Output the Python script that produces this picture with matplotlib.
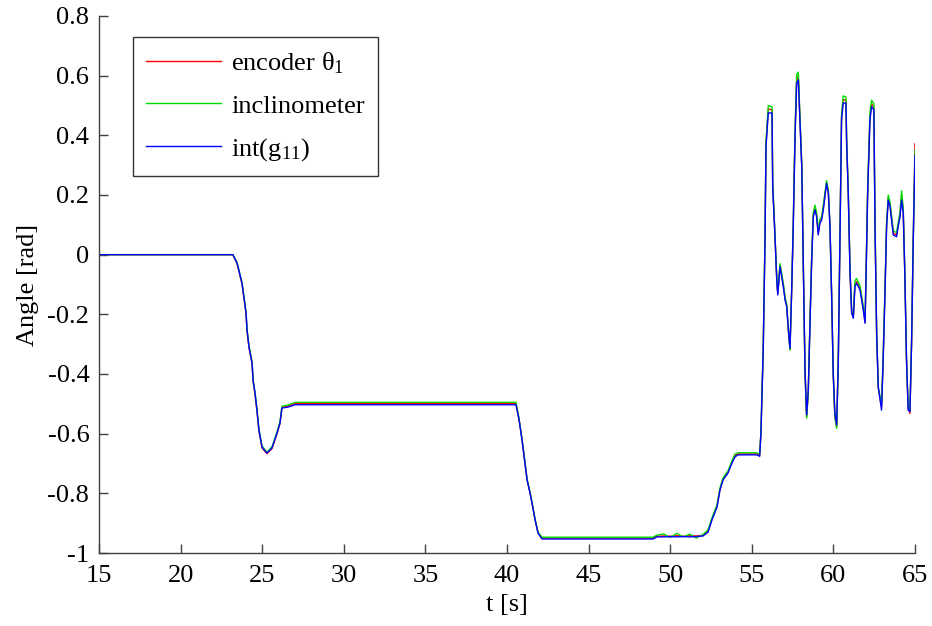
import matplotlib
matplotlib.use("Agg")
import matplotlib.pyplot as plt
import numpy as np

plt.rcParams['font.family'] = ['Liberation Serif', 'DejaVu Serif']
plt.rcParams['mathtext.fontset'] = 'custom'
plt.rcParams['mathtext.rm'] = 'Liberation Serif'
plt.rcParams['mathtext.it'] = 'Liberation Serif:italic'
plt.rcParams['axes.unicode_minus'] = False

# time samples [s]
t = [15.0, 23.2, 23.46, 23.76, 23.88, 24.01, 24.07, 24.19, 24.38, 24.44, 24.56,
     24.68, 24.80, 24.99, 25.29, 25.60, 25.91, 26.09, 26.21, 26.58, 27.01,
     40.55, 40.74, 40.92, 41.10, 41.23, 41.41, 41.53, 41.72, 41.90, 42.14,
     48.95, 49.19, 49.6, 50.0, 50.4, 50.8, 51.2, 51.6, 52.01, 52.32, 52.56,
     52.87, 53.05, 53.24, 53.54, 53.79, 53.97, 54.15, 55.32, 55.48, 55.56,
     55.70, 55.81, 55.87, 56.01, 56.24, 56.28, 56.42, 56.53, 56.59, 56.73,
     56.93, 57.04, 57.14, 57.24, 57.34, 57.44, 57.54, 57.65, 57.75, 57.85,
     57.96, 58.06, 58.16, 58.26, 58.36, 58.46, 58.57, 58.67, 58.77, 58.87,
     58.97, 59.07, 59.17, 59.28, 59.38, 59.48, 59.58, 59.69, 59.79, 59.89,
     59.99, 60.09, 60.20, 60.30, 60.40, 60.50, 60.60, 60.77, 60.81, 60.91,
     61.02, 61.12, 61.22, 61.32, 61.42, 61.63, 61.83, 61.94, 62.00, 62.10,
     62.24, 62.34, 62.48, 62.55, 62.65, 62.75, 62.95, 63.05, 63.16, 63.26,
     63.36, 63.47, 63.67, 63.87, 63.97, 64.08, 64.18, 64.28, 64.38, 64.48,
     64.58, 64.69, 64.79, 64.89, 65.0]

# int(g11): integrated gyro signal [rad]
gyro = [0.0, 0.0, -0.028, -0.095, -0.142, -0.195, -0.252, -0.309, -0.363, -0.420, -0.464,
        -0.521, -0.588, -0.645, -0.665, -0.648, -0.598, -0.564, -0.514, -0.511, -0.503,
        -0.503, -0.554, -0.621, -0.698, -0.755, -0.799, -0.832, -0.889, -0.933, -0.953,
        -0.953, -0.946, -0.946, -0.945, -0.946, -0.945, -0.946, -0.945, -0.943, -0.930, -0.889,
        -0.846, -0.789, -0.755, -0.732, -0.698, -0.678, -0.671, -0.671, -0.676, -0.600,
        -0.319, 0.049, 0.362, 0.475, 0.475, 0.228, 0.060, -0.085, -0.135, -0.040,
        -0.107, -0.152, -0.174, -0.252, -0.314, -0.128, 0.094, 0.396, 0.575, 0.586,
        0.429, 0.295, -0.040, -0.387, -0.537, -0.454, -0.219, -0.018, 0.127, 0.150,
        0.127, 0.066, 0.105, 0.116, 0.150, 0.194, 0.239, 0.206, 0.094, -0.130,
        -0.398, -0.532, -0.571, -0.353, 0.038, 0.452, 0.508, 0.508, 0.374, 0.206,
        -0.062, -0.196, -0.213, -0.107, -0.096, -0.118, -0.185, -0.230, -0.074, 0.206,
        0.452, 0.496, 0.485, 0.094, -0.264, -0.443, -0.521, -0.353, -0.129, 0.094,
        0.183, 0.161, 0.066, 0.060, 0.094, 0.127, 0.183, 0.139, -0.074, -0.353,
        -0.521, -0.526, -0.297, 0.038, 0.334]

# encoder theta1 [rad]
encoder = [0.0, 0.0, -0.030, -0.098, -0.146, -0.198, -0.255, -0.312, -0.366, -0.423, -0.468,
           -0.525, -0.592, -0.648, -0.667, -0.650, -0.600, -0.566, -0.512, -0.508, -0.499,
           -0.499, -0.552, -0.620, -0.697, -0.754, -0.798, -0.831, -0.888, -0.932, -0.950,
           -0.950, -0.944, -0.943, -0.944, -0.942, -0.944, -0.942, -0.943, -0.941, -0.926, -0.886,
           -0.842, -0.786, -0.752, -0.729, -0.695, -0.674, -0.668, -0.668, -0.673, -0.596,
           -0.316, 0.055, 0.370, 0.488, 0.486, 0.235, 0.064, -0.082, -0.130, -0.036,
           -0.102, -0.148, -0.172, -0.252, -0.318, -0.126, 0.100, 0.405, 0.588, 0.598,
           0.438, 0.300, -0.040, -0.392, -0.545, -0.460, -0.214, -0.012, 0.133, 0.158,
           0.134, 0.072, 0.110, 0.122, 0.156, 0.200, 0.242, 0.210, 0.096, -0.132,
           -0.402, -0.540, -0.578, -0.356, 0.044, 0.462, 0.520, 0.518, 0.382, 0.210,
           -0.060, -0.194, -0.210, -0.100, -0.090, -0.112, -0.180, -0.226, -0.070, 0.214,
           0.462, 0.505, 0.494, 0.098, -0.266, -0.448, -0.510, -0.348, -0.124, 0.100,
           0.190, 0.168, 0.072, 0.066, 0.100, 0.134, 0.200, 0.146, -0.070, -0.356,
           -0.512, -0.532, -0.296, 0.044, 0.372]

# inclinometer [rad]
inclino = [0.0, 0.0, -0.026, -0.092, -0.140, -0.192, -0.250, -0.306, -0.360, -0.418, -0.462,
           -0.518, -0.585, -0.642, -0.662, -0.644, -0.594, -0.560, -0.508, -0.504, -0.495,
           -0.495, -0.550, -0.618, -0.694, -0.752, -0.796, -0.829, -0.886, -0.930, -0.947,
           -0.947, -0.940, -0.936, -0.948, -0.934, -0.946, -0.937, -0.950, -0.938, -0.922, -0.882,
           -0.838, -0.782, -0.748, -0.725, -0.690, -0.668, -0.664, -0.664, -0.670, -0.592,
           -0.312, 0.060, 0.380, 0.500, 0.496, 0.240, 0.070, -0.078, -0.126, -0.030,
           -0.096, -0.142, -0.168, -0.250, -0.320, -0.122, 0.106, 0.418, 0.604, 0.612,
           0.450, 0.306, -0.036, -0.396, -0.548, -0.462, -0.210, -0.006, 0.140, 0.166,
           0.142, 0.080, 0.118, 0.128, 0.164, 0.206, 0.248, 0.216, 0.100, -0.130,
           -0.404, -0.544, -0.582, -0.356, 0.050, 0.472, 0.532, 0.528, 0.392, 0.218,
           -0.056, -0.190, -0.204, -0.088, -0.080, -0.104, -0.174, -0.220, -0.064, 0.222,
           0.476, 0.518, 0.506, 0.104, -0.262, -0.446, -0.500, -0.340, -0.118, 0.108,
           0.200, 0.176, 0.080, 0.074, 0.108, 0.142, 0.214, 0.154, -0.064, -0.352,
           -0.506, -0.524, -0.290, 0.050, 0.350]

x_ticks = [15, 20, 25, 30, 35, 40, 45, 50, 55, 60, 65]
y_ticks = [-1, -0.8, -0.6, -0.4, -0.2, 0, 0.2, 0.4, 0.6, 0.8]
y_tick_labels = ['-1', '-0.8', '-0.6', '-0.4', '-0.2', '0', '0.2', '0.4', '0.6', '0.8']

fig = plt.figure(figsize=(9.32, 6.26), dpi=100)
ax = fig.add_axes([99 / 932, 73 / 626, 816 / 932, 537 / 626])

ax.plot(t, encoder, color='#ff0000', lw=1.0, label=r'encoder θ$_1$')
ax.plot(t, inclino, color='#00e000', lw=1.0, label='inclinometer')
ax.plot(t, gyro, color='#0000ff', lw=1.0, label=r'int(g$_{11}$)')

ax.set_xlim(15, 65)
ax.set_ylim(-1, 0.8)
ax.set_xticks(x_ticks)
ax.set_xticklabels([str(v) for v in x_ticks])
ax.set_yticks(y_ticks)
ax.set_yticklabels(y_tick_labels)

for side in ('top', 'right'):
    ax.spines[side].set_visible(False)
for side in ('left', 'bottom'):
    ax.spines[side].set_color('#404040')
    ax.spines[side].set_linewidth(1.0)
ax.tick_params(direction='in', length=6.5, width=1.0, color='#404040',
               labelsize=19, pad=7)
ax.tick_params(axis='x', pad=9)

ax.set_xlabel('t [s]', fontsize=19, labelpad=5)
ax.set_ylabel('Angle [rad]', fontsize=19, labelpad=6)

leg = ax.legend(loc='upper left', bbox_to_anchor=(0.0413, 0.961),
                borderaxespad=0, fontsize=19, frameon=True, fancybox=False,
                handlelength=2.85, handletextpad=0.38, labelspacing=0.7,
                borderpad=0.5)
leg.get_frame().set_edgecolor('black')
leg.get_frame().set_linewidth(1.0)

fig.savefig('out.png', dpi=100)
